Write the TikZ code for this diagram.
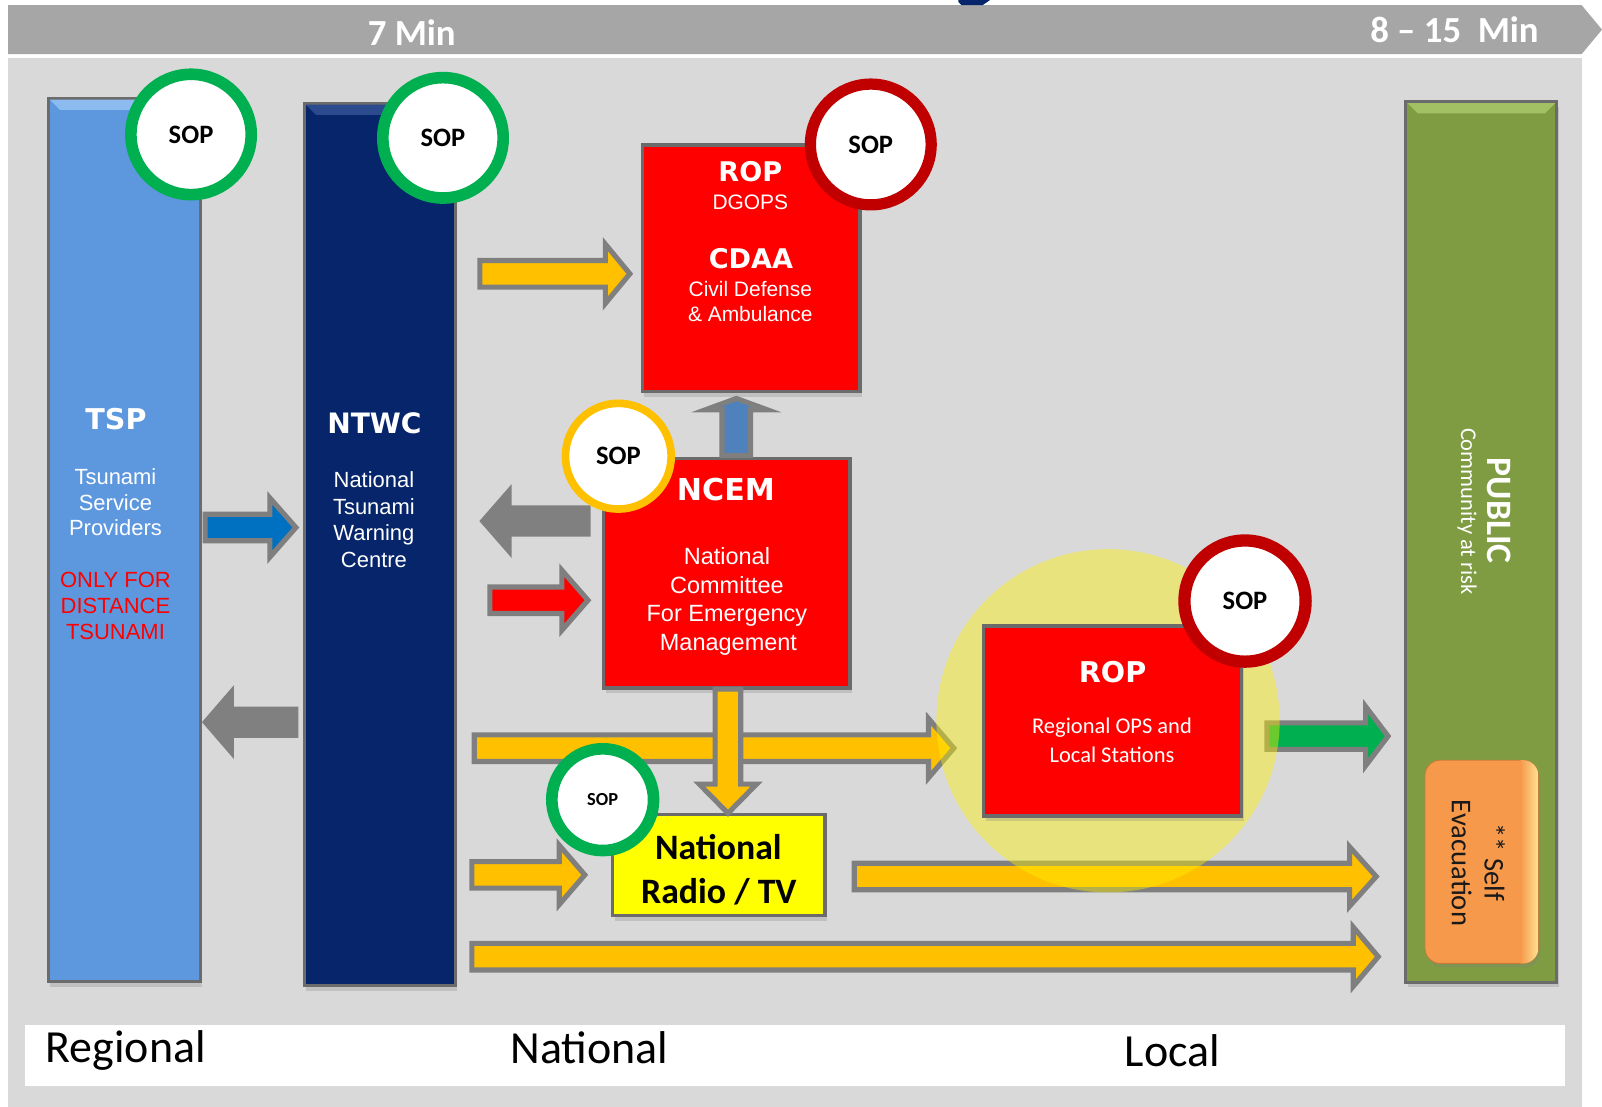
\documentclass[tikz,border=0pt]{standalone}
\usepackage{fontspec}
\setmainfont{Liberation Sans}
\newfontfamily\carl{Carlito}
\newfontfamily\djv{DejaVu Sans}
\usetikzlibrary{calc,shadows}
\definecolor{panelgray}{HTML}{D9D9D9}
\definecolor{bannergray}{HTML}{A6A6A6}
\definecolor{tspblue}{HTML}{5D98DF}
\definecolor{tspbevel}{HTML}{8CBBF0}
\definecolor{navyc}{HTML}{06256A}
\definecolor{navybevel}{HTML}{2C4B8E}
\definecolor{olivec}{HTML}{7F9C43}
\definecolor{olivebevel}{HTML}{A2C064}
\definecolor{sopgreen}{HTML}{00B050}
\definecolor{sopred}{HTML}{C00000}
\definecolor{sopyellow}{HTML}{FFC000}
\definecolor{boxred}{HTML}{FF0000}
\definecolor{boxyellow}{HTML}{FFFF00}
\definecolor{arrowgray}{HTML}{7F7F7F}
\definecolor{agray}{HTML}{808080}
\definecolor{ayellow}{HTML}{FFC000}
\definecolor{ablue}{HTML}{0070C0}
\definecolor{abluetwo}{HTML}{4F81BD}
\definecolor{agreen}{HTML}{00B050}
\definecolor{bordergray}{HTML}{6B6B6B}
\definecolor{sevacA}{HTML}{F08E3E}
\definecolor{sevacB}{HTML}{F6994B}
\definecolor{sevacC}{HTML}{FFE495}
\definecolor{onlyred}{HTML}{FF0000}
\newcommand\fsz[2]{\fontsize{#1}{#2}\selectfont}
\newcommand\blockarrow[6]{%
  \coordinate (hb) at ($(#2)!#6pt!(#1)$);
  \draw[blockarrow,#3] ($(#1)!#4pt!90:(#2)$) -- ($(hb)!#4pt!90:(#2)$) -- ($(hb)!#5pt!90:(#2)$) -- (#2)
    -- ($(hb)!#5pt!-90:(#2)$) -- ($(hb)!#4pt!-90:(#2)$) -- ($(#1)!#4pt!-90:(#2)$) -- cycle;}
\newcommand\bevel[3]{%
  \fill[#3] ($(#1.north west)+(3,3)$) -- ($(#1.north east)+(-3,3)$) -- ($(#1.north east)+(-3-#2,3+#2)$) -- ($(#1.north west)+(3+#2,3+#2)$) -- cycle;}
\tikzset{
  col/.style={draw=bordergray, line width=3pt, inner sep=0pt,
    drop shadow={shadow xshift=2pt, shadow yshift=-5pt, opacity=0.28}},
  box/.style={draw=bordergray, line width=3.5pt, inner sep=0pt,
    drop shadow={shadow xshift=2pt, shadow yshift=-5pt, opacity=0.28}},
  sop/.style={circle, fill=white, inner sep=0pt, text=black, font=\carl\bfseries\fsz{26}{26}},
  blockarrow/.style={draw=arrowgray, line width=5pt, line join=miter, miter limit=10},
  bantext/.style={anchor=base, inner sep=0pt, text=white, font=\carl\bfseries\fsz{36}{36}},
  lbl/.style={anchor=base, inner sep=0pt, text=black, font=\carl\fsz{45}{45}},
  wtext/.style={anchor=base, inner sep=0pt, text=white, font=\fsz{21.5}{25}},
  rtext/.style={anchor=base, inner sep=0pt, text=onlyred, font=\fsz{21.5}{25}},
  title/.style={anchor=base, inner sep=0pt, text=white},
}
\begin{document}
\begin{tikzpicture}[x=1pt,y=-1pt]
\useasboundingbox (0,0) rectangle (1568,1083.5);
\fill[white] (0,0) rectangle (1568,1083.5);
\fill[panelgray] (8,56.5) rectangle (1548,1083.5);
\fill[bannergray] (8,5) -- (1548,5) -- (1568,29) -- (1548,53) -- (8,53) -- cycle;
\fill[navyc] (938,0) -- (969,0) -- (962,4.9) -- (941,4.9) -- (938,2) -- cycle;
\node[bantext] (min7) at (403,44.7) {7 Min};
\node[bantext] (min815) at (1423.6,41.8) {8 \textendash{} 15\ \ Min};
% level strip
\fill[white] (24,1003) rectangle (1532,1063);
\node[lbl] (lregional) at (123,1040) {Regional};
\node[lbl] (lnational) at (577,1040.7) {National};
\node[lbl] (llocal) at (1147.5,1043.4) {Local};
% columns
\node[col, fill=tspblue, minimum width=148.7pt, minimum height=864.9pt] (tsp) at (121.5,528.5) {};
\bevel{tsp}{10}{tspbevel}
\node[col, fill=navyc, minimum width=147.7pt, minimum height=863.8pt] (ntwc) at (371.6,532.9) {};
\bevel{ntwc}{10}{navybevel}
\node[col, fill=olivec, minimum width=147.7pt, minimum height=862pt] (public) at (1449.9,530.4) {};
\bevel{public}{10}{olivebevel}
% column texts
\node[title, font=\djv\bfseries\fsz{28}{28}] (tsptitle) at (113.5,420.2) {TSP};
\node[wtext] (tspl1) at (113,474.5) {Tsunami};
\node[wtext] (tspl2) at (113,499.5) {Service};
\node[wtext] (tspl3) at (113,524.5) {Providers};
\node[rtext] (tspr1) at (113,575.5) {ONLY FOR};
\node[rtext] (tspr2) at (113,600.5) {DISTANCE};
\node[rtext] (tspr3) at (113,625.5) {TSUNAMI};
\node[title, font=\djv\bfseries\fsz{27.5}{28}] (ntwctitle) at (366.5,424.1) {NTWC};
\node[wtext] (ntwcl1) at (366,477.5) {National};
\node[wtext] (ntwcl2) at (366,503.5) {Tsunami};
\node[wtext] (ntwcl3) at (366,529.5) {Warning};
\node[wtext] (ntwcl4) at (366,555.5) {Centre};
\node[title, rotate=-90, font=\carl\bfseries\fsz{35}{35}] (pubtitle) at (1456,500) {PUBLIC};
\node[title, rotate=-90, font=\carl\fsz{22}{22}] (pubsub) at (1430,500.4) {Community at risk};
% boxes
\node[box, fill=boxred, minimum width=212.9pt, minimum height=241.2pt] (cdaa) at (735.2,262.7) {};
\node[box, fill=boxred, minimum width=241.1pt, minimum height=224.8pt] (ncem) at (711.3,561.2) {};
\node[box, fill=boxyellow, minimum width=207.8pt, minimum height=98.9pt] (radio) at (703.4,846.6) {};
% arrows
\coordinate (a1s) at (200.8,516.3);  \coordinate (a1e) at (289.6,516.3);
\coordinate (a2s) at (289.5,706.8);  \coordinate (a2e) at (201,706.8);
\coordinate (a3s) at (469.7,268);    \coordinate (a3e) at (616.5,268);
\coordinate (a4s) at (575.5,510);    \coordinate (a4e) at (472.5,510);
\coordinate (a5s) at (479.5,587.5);  \coordinate (a5e) at (575.5,587.5);
\coordinate (a6s) at (720.7,446);    \coordinate (a6e) at (720.7,390);
\coordinate (a7s) at (712.5,674.5);  \coordinate (a7e) at (712.5,796);
\coordinate (a8s) at (464.2,732.3);  \coordinate (a8e) at (933.6,732.3);
\coordinate (a9s) at (461.9,856.3);  \coordinate (a9e) at (572.4,856.3);
\coordinate (a10s) at (836.1,857.9); \coordinate (a10e) at (1347,857.9);
\coordinate (a11s) at (461.9,936.4); \coordinate (a11e) at (1349,936.4);
\coordinate (a12s) at (1240,720.5);  \coordinate (a12e) at (1358.6,720.5);
\blockarrow{a1s}{a1e}{fill=ablue}{13}{29}{25.5}
\blockarrow{a2s}{a2e}{fill=agray,draw=agray}{12.8}{29.5}{25.5}
\blockarrow{a3s}{a3e}{fill=ayellow}{13}{29}{24}
\blockarrow{a4s}{a4e}{fill=agray,draw=agray}{12.8}{29.5}{25.8}
\blockarrow{a5s}{a5e}{fill=boxred}{13}{29.3}{25.5}
\blockarrow{a6s}{a6e}{fill=abluetwo}{14}{30}{11}
\blockarrow{a8s}{a8e}{fill=ayellow}{13}{29}{24.8}
\blockarrow{a7s}{a7e}{fill=ayellow}{12.5}{28}{28.5}
\blockarrow{a9s}{a9e}{fill=ayellow}{13}{29}{25}
\blockarrow{a10s}{a10e}{fill=ayellow}{13}{29}{26}
\blockarrow{a11s}{a11e}{fill=ayellow}{13}{29}{24.5}
\blockarrow{a12s}{a12e}{fill=agreen}{13}{29}{22}
% glow and local box
\node[circle, fill=yellow, fill opacity=0.42, minimum size=336pt, inner sep=0pt] (glow) at (1084.5,705.5) {};
\node[box, fill=boxred, minimum width=252.6pt, minimum height=186.1pt] (rop) at (1088.9,705.5) {};
% self evacuation
\node[rounded corners=15pt, fill=sevacB, draw=sevacA!85!black, line width=0.8pt,
  minimum width=110.9pt, minimum height=198.9pt, inner sep=0pt,
  drop shadow={shadow xshift=2pt, shadow yshift=-4pt, opacity=0.25}] (sevac) at (1450.2,843.5) {};
\begin{scope}
  \clip[rounded corners=15pt] ($(sevac.north west)+(0.4,0.4)$) rectangle ($(sevac.south east)+(-0.4,-0.4)$);
  \shade[left color=sevacB, right color=sevacC] ($(sevac.north east)+(-18,0)$) rectangle (sevac.south east);
  \shade[top color=sevacA, bottom color=sevacB, opacity=0.6] (sevac.north west) rectangle ($(sevac.north east)+(0,-30)$);
\end{scope}
\node[anchor=base, inner sep=0pt, rotate=-90, text=black!90, font=\carl\fsz{28}{28}] (sevac1) at (1453,844) {** Self};
\node[anchor=base, inner sep=0pt, rotate=-90, text=black!90, font=\carl\fsz{28}{28}] (sevac2) at (1421,844.7) {Evacuation};
% box texts
\node[title, font=\djv\bfseries\fsz{26.5}{27}] (cdaarop) at (734.4,177.8) {ROP};
\node[title, font=\fsz{20.5}{24}] (cdaadg) at (734.4,205.5) {DGOPS};
\node[title, font=\djv\bfseries\fsz{26.5}{27}] (cdaat) at (735,262.6) {CDAA};
\node[title, font=\fsz{20.5}{24}] (cdaal1) at (734.4,290.4) {Civil Defense};
\node[title, font=\fsz{20.5}{24}] (cdaal2) at (734.4,314.2) {\& Ambulance};
\node[title, font=\djv\bfseries\fsz{29.5}{30}] (ncemt) at (710.5,490) {NCEM};
\node[title, font=\fsz{23}{28}] (ncem1) at (711.5,553) {National};
\node[title, font=\fsz{23}{28}] (ncem2) at (711.5,580.7) {Committee};
\node[title, font=\fsz{23}{28}] (ncem3) at (711.5,608.5) {For Emergency};
\node[title, font=\fsz{23}{28}] (ncem4) at (713,636.2) {Management};
\node[title, text=black, font=\carl\bfseries\fsz{35}{35}] (radio1) at (703.1,840.8) {National};
\node[title, text=black, font=\carl\bfseries\fsz{35}{35}] (radio2) at (703.6,884.1) {Radio / TV};
\node[title, font=\djv\bfseries\fsz{28}{28}] (ropt) at (1089,667.9) {ROP};
\node[title, font=\carl\fsz{22}{22}] (rop1) at (1088.4,717.8) {Regional OPS and};
\node[title, font=\carl\fsz{22}{22}] (rop2) at (1088.4,746.1) {Local Stations};
% SOP badges
\node[sop, draw=sopgreen, line width=11.4pt, minimum size=117.8pt] (sop1) at (187,131.6) {SOP};
\node[sop, draw=sopgreen, line width=11.4pt, minimum size=117.8pt] (sop2) at (433.6,134.9) {SOP};
\node[sop, draw=sopred, line width=11pt, minimum size=118.2pt] (sop3) at (852.3,141.4) {SOP};
\node[sop, draw=sopyellow, line width=7.5pt, minimum size=103.5pt] (sop4) at (605.2,446.5) {SOP};
\node[sop, draw=sopgreen, line width=11.4pt, minimum size=99.6pt, font=\carl\bfseries\fsz{18}{18}] (sop5) at (589.9,782.7) {SOP};
\node[sop, draw=sopred, line width=12pt, minimum size=118.6pt] (sop6) at (1218.6,588.3) {SOP};
\end{tikzpicture}
\end{document}
